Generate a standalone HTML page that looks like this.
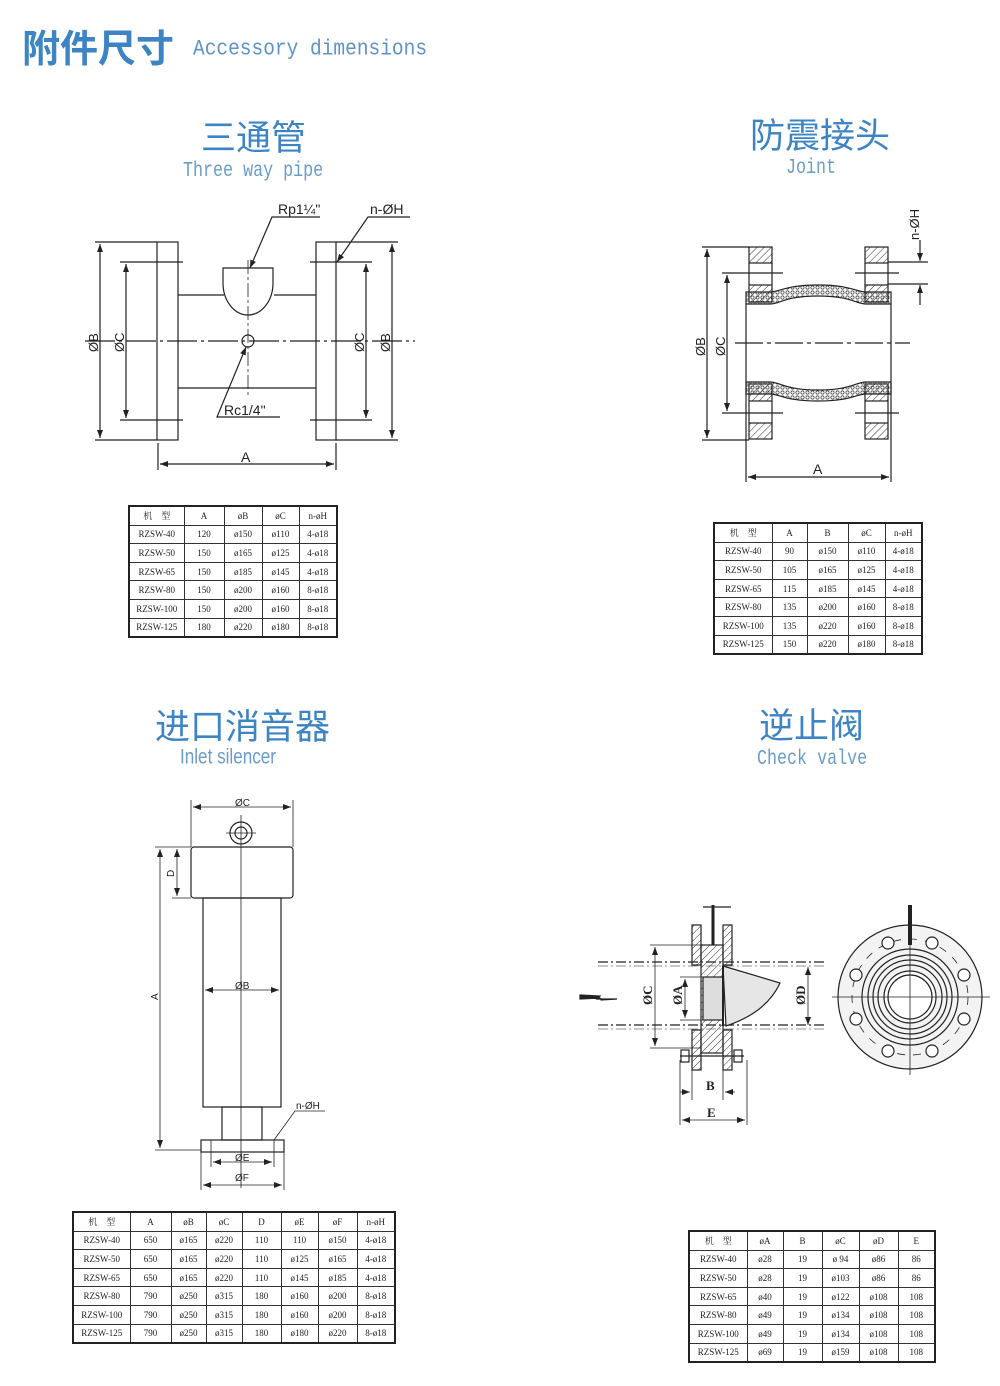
<!DOCTYPE html>
<html><head><meta charset="utf-8"><style>
body{margin:0;background:#fff;}
#p{position:relative;width:1000px;height:1386px;overflow:hidden;background:#fff;}
.cn{position:absolute;font-family:"Liberation Sans","Noto Sans CJK SC",sans-serif;color:#3c84c4;white-space:nowrap;}
.en{position:absolute;font-family:"Liberation Mono",monospace;color:#6a9ccb;white-space:nowrap;transform-origin:left top;}
table{position:absolute;border-collapse:collapse;border:2px solid #222;font-family:"Liberation Serif","Noto Serif CJK SC",serif;font-size:9px;color:#222;table-layout:fixed;}
td{border:1px solid #333;text-align:center;padding:0;height:17.6px;white-space:nowrap;overflow:hidden;}
svg text{font-family:"Liberation Sans",sans-serif;fill:#222;}
</style></head><body><div id="p">
<div class="cn" style="left:22px;top:18px;font-size:38px;font-weight:bold;">附件尺寸</div>
<div class="en" style="left:193px;top:36px;font-size:19.5px;color:#5f93c6;transform:scaleY(1.15);">Accessory dimensions</div>

<div class="cn" style="left:201px;top:110px;font-size:35px;">三通管</div>
<div class="en" style="left:183px;top:159px;font-size:16.7px;transform:scaleY(1.3);">Three way pipe</div>
<div class="cn" style="left:750px;top:108px;font-size:35px;">防震接头</div>
<div class="en" style="left:786px;top:156px;font-size:16.7px;transform:scaleY(1.3);">Joint</div>
<div class="cn" style="left:155px;top:699px;font-size:35px;">进口消音器</div>
<div class="en" style="left:180px;top:746px;font-size:19px;font-family:'Liberation Sans',sans-serif;transform:scaleX(0.9) scaleY(1.1);">Inlet silencer</div>
<div class="cn" style="left:759px;top:698px;font-size:35px;">逆止阀</div>
<div class="en" style="left:757px;top:747px;font-size:16.7px;transform:scaleY(1.3);">Check valve</div>

<svg width="1000" height="1386" style="position:absolute;left:0;top:0" stroke="#222" fill="none" stroke-width="1.2">
<defs>
<pattern id="h" width="5" height="5" patternUnits="userSpaceOnUse" patternTransform="rotate(45)"><line x1="0" y1="0" x2="0" y2="5" stroke="#333" stroke-width="1"/></pattern>
<pattern id="d" width="5" height="5" patternUnits="userSpaceOnUse"><circle cx="2.5" cy="2.5" r="1.6" stroke="#333" stroke-width="0.7"/></pattern>
<marker id="a" markerWidth="8" markerHeight="6" refX="8" refY="3" orient="auto-start-reverse" markerUnits="userSpaceOnUse"><path d="M0,0L8,3L0,6z" fill="#222" stroke="none"/></marker>
</defs>
<!-- three way pipe -->
<rect x="157" y="242" width="21" height="198"/>
<rect x="316" y="242" width="20" height="198"/>
<line x1="178" y1="295" x2="224" y2="295"/><line x1="274" y1="295" x2="316" y2="295"/>
<line x1="178" y1="388" x2="316" y2="388"/>
<path d="M223,268H273V283A25,32 0 0 1 223,283Z"/>
<line x1="85" y1="341" x2="415" y2="341" stroke-dasharray="30,4,3,4"/>
<line x1="248" y1="260" x2="248" y2="398" stroke-dasharray="14,3,3,3" stroke-width="0.8"/>
<circle cx="248" cy="341" r="6"/>
<line x1="95" y1="242" x2="157" y2="242"/><line x1="95" y1="440" x2="157" y2="440"/>
<line x1="100" y1="244" x2="100" y2="438" marker-start="url(#a)" marker-end="url(#a)"/>
<line x1="120" y1="262" x2="183" y2="262"/><line x1="120" y1="420" x2="183" y2="420"/>
<line x1="126" y1="264" x2="126" y2="418" marker-start="url(#a)" marker-end="url(#a)"/>
<line x1="310" y1="262" x2="372" y2="262"/><line x1="310" y1="420" x2="372" y2="420"/>
<line x1="366" y1="264" x2="366" y2="418" marker-start="url(#a)" marker-end="url(#a)"/>
<line x1="336" y1="242" x2="398" y2="242"/><line x1="336" y1="440" x2="398" y2="440"/>
<line x1="392" y1="244" x2="392" y2="438" marker-start="url(#a)" marker-end="url(#a)"/>
<line x1="158" y1="443" x2="158" y2="470"/><line x1="336" y1="443" x2="336" y2="470"/>
<line x1="160" y1="464" x2="334" y2="464" marker-start="url(#a)" marker-end="url(#a)"/>
<polyline points="320,217 272,217 250,268" marker-end="url(#a)"/>
<polyline points="410,217 368,217 337,262" marker-end="url(#a)"/>
<polyline points="280,417 217,417 246,347" marker-end="url(#a)"/>
<g stroke="none"><text x="278" y="214" font-size="14">Rp1¼"</text><text x="370" y="214" font-size="14">n-ØH</text>
<text x="224" y="415" font-size="14">Rc1/4"</text><text x="241" y="462" font-size="14">A</text>
<text transform="translate(98,352) rotate(-90)" font-size="13">ØB</text><text transform="translate(124,352) rotate(-90)" font-size="13">ØC</text>
<text transform="translate(364,352) rotate(-90)" font-size="13">ØC</text><text transform="translate(390,352) rotate(-90)" font-size="13">ØB</text></g>

<!-- joint -->
<rect x="749" y="247" width="23" height="16" fill="url(#h)"/><rect x="749" y="285" width="23" height="17" fill="url(#h)"/>
<rect x="749" y="384" width="23" height="17" fill="url(#h)"/><rect x="749" y="423" width="23" height="16" fill="url(#h)"/>
<rect x="865" y="247" width="23" height="16" fill="url(#h)"/><rect x="865" y="285" width="23" height="17" fill="url(#h)"/>
<rect x="865" y="384" width="23" height="17" fill="url(#h)"/><rect x="865" y="423" width="23" height="16" fill="url(#h)"/>
<line x1="749" y1="263" x2="749" y2="285"/><line x1="772" y1="263" x2="772" y2="285"/><line x1="865" y1="263" x2="865" y2="285"/><line x1="888" y1="263" x2="888" y2="285"/>
<line x1="749" y1="401" x2="749" y2="423"/><line x1="772" y1="401" x2="772" y2="423"/><line x1="865" y1="401" x2="865" y2="423"/><line x1="888" y1="401" x2="888" y2="423"/>
<path d="M746,292H770C780,292 785,285 818,285C851,285 856,292 866,292H891V304H866C856,304 851,296 818,296C785,296 780,304 770,304H746Z" fill="url(#d)"/>
<path d="M746,394H770C780,394 785,401 818,401C851,401 856,394 866,394H891V382H866C856,382 851,390 818,390C785,390 780,382 770,382H746Z" fill="url(#d)"/>
<line x1="746" y1="304" x2="746" y2="482"/><line x1="891" y1="304" x2="891" y2="482"/>
<line x1="735" y1="343" x2="910" y2="343" stroke-dasharray="28,4,4,4"/>
<line x1="702" y1="247" x2="749" y2="247"/><line x1="702" y1="440" x2="749" y2="440"/>
<line x1="707" y1="249" x2="707" y2="438" marker-start="url(#a)" marker-end="url(#a)"/>
<line x1="722" y1="273" x2="783" y2="273"/><line x1="722" y1="413" x2="783" y2="413"/>
<line x1="727" y1="275" x2="727" y2="411" marker-start="url(#a)" marker-end="url(#a)"/>
<line x1="855" y1="273" x2="899" y2="273"/><line x1="855" y1="413" x2="899" y2="413"/>
<line x1="888" y1="262" x2="928" y2="262"/><line x1="888" y1="284" x2="928" y2="284"/>
<line x1="920" y1="240" x2="920" y2="261" marker-end="url(#a)"/><line x1="920" y1="305" x2="920" y2="285" marker-end="url(#a)"/>
<line x1="748" y1="477" x2="889" y2="477" marker-start="url(#a)" marker-end="url(#a)"/>
<g stroke="none"><text x="813" y="474" font-size="14">A</text>
<text transform="translate(705,356) rotate(-90)" font-size="13">ØB</text><text transform="translate(725,356) rotate(-90)" font-size="13">ØC</text>
<text transform="translate(919,240) rotate(-90)" font-size="13">n-ØH</text></g>

<!-- silencer -->
<rect x="191" y="847" width="102" height="51" rx="3"/>
<rect x="203" y="898" width="78" height="209"/>
<rect x="222" y="1107" width="40" height="33"/>
<rect x="201" y="1140" width="83" height="12"/>
<circle cx="241" cy="833" r="11"/><circle cx="241" cy="833" r="6"/>
<line x1="226" y1="833" x2="256" y2="833" stroke-width="0.8"/>
<line x1="241" y1="815" x2="241" y2="1188" stroke-width="0.8"/>
<line x1="191" y1="800" x2="191" y2="847" stroke-width="0.8"/><line x1="293" y1="800" x2="293" y2="847" stroke-width="0.8"/>
<line x1="193" y1="807" x2="291" y2="807" marker-start="url(#a)" marker-end="url(#a)" stroke-width="0.8"/>
<line x1="155" y1="847" x2="191" y2="847" stroke-width="0.8"/><line x1="172" y1="898" x2="191" y2="898" stroke-width="0.8"/>
<line x1="177" y1="849" x2="177" y2="896" marker-start="url(#a)" marker-end="url(#a)" stroke-width="0.8"/>
<line x1="155" y1="1150" x2="201" y2="1150" stroke-width="0.8"/>
<line x1="160" y1="849" x2="160" y2="1148" marker-start="url(#a)" marker-end="url(#a)" stroke-width="0.8"/>
<line x1="205" y1="990" x2="279" y2="990" marker-start="url(#a)" marker-end="url(#a)" stroke-width="0.8"/>
<line x1="211" y1="1140" x2="211" y2="1167" stroke-width="0.8"/><line x1="274" y1="1140" x2="274" y2="1167" stroke-width="0.8"/>
<line x1="213" y1="1162" x2="272" y2="1162" marker-start="url(#a)" marker-end="url(#a)" stroke-width="0.8"/>
<line x1="201" y1="1152" x2="201" y2="1190" stroke-width="0.8"/><line x1="284" y1="1152" x2="284" y2="1190" stroke-width="0.8"/>
<line x1="203" y1="1185" x2="282" y2="1185" marker-start="url(#a)" marker-end="url(#a)" stroke-width="0.8"/>
<polyline points="325,1111 295,1111 274,1140" stroke-width="0.8"/>
<g stroke="none" font-size="10"><text x="235" y="806">ØC</text><text x="235" y="989">ØB</text><text x="235" y="1161">ØE</text><text x="235" y="1181">ØF</text>
<text x="296" y="1109">n-ØH</text><text transform="translate(174,877) rotate(-90)">D</text><text transform="translate(158,1000) rotate(-90)">A</text></g>

<!-- check valve -->
<line x1="598" y1="962" x2="825" y2="962" stroke-dasharray="10,3,2,3"/><line x1="598" y1="966" x2="825" y2="966" stroke-dasharray="10,3,2,3" stroke-width="0.6"/>
<line x1="598" y1="1025" x2="825" y2="1025" stroke-dasharray="10,3,2,3"/><line x1="598" y1="1029" x2="825" y2="1029" stroke-dasharray="10,3,2,3" stroke-width="0.6"/>
<rect x="692" y="925" width="9" height="40" fill="url(#h)"/><rect x="723" y="925" width="9" height="40" fill="url(#h)"/>
<rect x="692" y="1030" width="9" height="40" fill="url(#h)"/><rect x="723" y="1030" width="9" height="40" fill="url(#h)"/>
<rect x="701" y="945" width="22" height="108" fill="url(#h)"/>
<rect x="703" y="977" width="20" height="43" fill="#ddd"/>
<line x1="713" y1="905" x2="713" y2="945" stroke-width="3"/><line x1="703" y1="907" x2="731" y2="907"/>
<path d="M723,966L780,983C770,1005 750,1018 726,1026Z" fill="#e6e6e6"/>
<line x1="723" y1="966" x2="723" y2="1026" stroke-width="2"/>
<rect x="681" y="1050" width="8" height="12"/><rect x="734" y="1050" width="8" height="12"/>
<line x1="680" y1="1056" x2="744" y2="1056"/>
<line x1="650" y1="945" x2="701" y2="945" stroke-width="0.8"/><line x1="650" y1="1048" x2="701" y2="1048" stroke-width="0.8"/>
<line x1="655" y1="947" x2="655" y2="1046" marker-start="url(#a)" marker-end="url(#a)" stroke-width="0.8"/>
<line x1="680" y1="977" x2="703" y2="977" stroke-width="0.8"/><line x1="680" y1="1020" x2="703" y2="1020" stroke-width="0.8"/>
<line x1="685" y1="979" x2="685" y2="1018" marker-start="url(#a)" marker-end="url(#a)" stroke-width="0.8"/>
<line x1="808" y1="967" x2="808" y2="1025" marker-start="url(#a)" marker-end="url(#a)" stroke-width="0.8"/>
<line x1="680" y1="1060" x2="680" y2="1125" stroke-width="0.8"/><line x1="747" y1="1060" x2="747" y2="1125" stroke-width="0.8"/>
<line x1="692" y1="1070" x2="692" y2="1100" stroke-width="0.8"/><line x1="723" y1="1070" x2="723" y2="1100" stroke-width="0.8"/>
<line x1="680" y1="1092" x2="690" y2="1092" marker-end="url(#a)" stroke-width="0.8"/><line x1="735" y1="1092" x2="725" y2="1092" marker-end="url(#a)" stroke-width="0.8"/>
<line x1="682" y1="1120" x2="745" y2="1120" marker-start="url(#a)" marker-end="url(#a)" stroke-width="0.8"/>
<path d="M580,995L600,996L597,999L617,999L601,1000L600,998L580,999Z" fill="#222"/>
<g stroke="none" font-size="13" font-weight="bold"><text x="706" y="1090" style="font-family:'Liberation Serif'">B</text><text x="707" y="1117" style="font-family:'Liberation Serif'">E</text>
<text transform="translate(652,1005) rotate(-90)" style="font-family:'Liberation Serif'">ØC</text><text transform="translate(682,1005) rotate(-90)" style="font-family:'Liberation Serif'">ØA</text><text transform="translate(805,1005) rotate(-90)" style="font-family:'Liberation Serif'">ØD</text></g>
<circle cx="910" cy="997" r="72" fill="#f3f3f3"/>
<circle cx="910" cy="997" r="48"/><circle cx="910" cy="997" r="42"/><circle cx="910" cy="997" r="37"/><circle cx="910" cy="997" r="32"/><circle cx="910" cy="997" r="26" fill="#fff"/><circle cx="910" cy="997" r="22"/>
<circle cx="910" cy="997" r="58" stroke-dasharray="8,8" stroke-width="0.8"/>
<g fill="#fff"><circle cx="932" cy="943" r="6"/><circle cx="888" cy="943" r="6"/><circle cx="856" cy="975" r="6"/><circle cx="964" cy="975" r="6"/><circle cx="856" cy="1019" r="6"/><circle cx="964" cy="1019" r="6"/><circle cx="888" cy="1051" r="6"/><circle cx="932" cy="1051" r="6"/></g>
<line x1="832" y1="997" x2="990" y2="997" stroke-width="0.8"/><line x1="910" y1="920" x2="910" y2="1075" stroke-width="0.8"/>
<line x1="910" y1="905" x2="910" y2="945" stroke-width="4"/>
</svg>

<table style="left:128px;top:505px;width:209px;"><colgroup><col style="width:55px"><col style="width:40px"><col style="width:38px"><col style="width:37px"><col style="width:38px"></colgroup>
<tr><td>机　型</td><td>A</td><td>øB</td><td>øC</td><td>n-øH</td></tr>
<tr><td>RZSW-40</td><td>120</td><td>ø150</td><td>ø110</td><td>4-ø18</td></tr>
<tr><td>RZSW-50</td><td>150</td><td>ø165</td><td>ø125</td><td>4-ø18</td></tr>
<tr><td>RZSW-65</td><td>150</td><td>ø185</td><td>ø145</td><td>4-ø18</td></tr>
<tr><td>RZSW-80</td><td>150</td><td>ø200</td><td>ø160</td><td>8-ø18</td></tr>
<tr><td>RZSW-100</td><td>150</td><td>ø200</td><td>ø160</td><td>8-ø18</td></tr>
<tr><td>RZSW-125</td><td>180</td><td>ø220</td><td>ø180</td><td>8-ø18</td></tr></table>

<table style="left:713px;top:522px;width:208px;"><colgroup><col style="width:58px"><col style="width:35px"><col style="width:41px"><col style="width:37px"><col style="width:37px"></colgroup>
<tr><td>机　型</td><td>A</td><td>B</td><td>øC</td><td>n-øH</td></tr>
<tr><td>RZSW-40</td><td>90</td><td>ø150</td><td>ø110</td><td>4-ø18</td></tr>
<tr><td>RZSW-50</td><td>105</td><td>ø165</td><td>ø125</td><td>4-ø18</td></tr>
<tr><td>RZSW-65</td><td>115</td><td>ø185</td><td>ø145</td><td>4-ø18</td></tr>
<tr><td>RZSW-80</td><td>135</td><td>ø200</td><td>ø160</td><td>8-ø18</td></tr>
<tr><td>RZSW-100</td><td>135</td><td>ø220</td><td>ø160</td><td>8-ø18</td></tr>
<tr><td>RZSW-125</td><td>150</td><td>ø220</td><td>ø180</td><td>8-ø18</td></tr></table>

<table style="left:72px;top:1211px;width:322px;"><colgroup><col style="width:57px"><col style="width:41px"><col style="width:35px"><col style="width:36px"><col style="width:39px"><col style="width:37px"><col style="width:39px"><col style="width:38px"></colgroup>
<tr><td>机　型</td><td>A</td><td>øB</td><td>øC</td><td>D</td><td>øE</td><td>øF</td><td>n-øH</td></tr>
<tr><td>RZSW-40</td><td>650</td><td>ø165</td><td>ø220</td><td>110</td><td>110</td><td>ø150</td><td>4-ø18</td></tr>
<tr><td>RZSW-50</td><td>650</td><td>ø165</td><td>ø220</td><td>110</td><td>ø125</td><td>ø165</td><td>4-ø18</td></tr>
<tr><td>RZSW-65</td><td>650</td><td>ø165</td><td>ø220</td><td>110</td><td>ø145</td><td>ø185</td><td>4-ø18</td></tr>
<tr><td>RZSW-80</td><td>790</td><td>ø250</td><td>ø315</td><td>180</td><td>ø160</td><td>ø200</td><td>8-ø18</td></tr>
<tr><td>RZSW-100</td><td>790</td><td>ø250</td><td>ø315</td><td>180</td><td>ø160</td><td>ø200</td><td>8-ø18</td></tr>
<tr><td>RZSW-125</td><td>790</td><td>ø250</td><td>ø315</td><td>180</td><td>ø180</td><td>ø220</td><td>8-ø18</td></tr></table>

<table style="left:688px;top:1230px;width:246px;"><colgroup><col style="width:58px"><col style="width:36px"><col style="width:39px"><col style="width:37px"><col style="width:39px"><col style="width:37px"></colgroup>
<tr><td>机　型</td><td>øA</td><td>B</td><td>øC</td><td>øD</td><td>E</td></tr>
<tr><td>RZSW-40</td><td>ø28</td><td>19</td><td>ø 94</td><td>ø86</td><td>86</td></tr>
<tr><td>RZSW-50</td><td>ø28</td><td>19</td><td>ø103</td><td>ø86</td><td>86</td></tr>
<tr><td>RZSW-65</td><td>ø40</td><td>19</td><td>ø122</td><td>ø108</td><td>108</td></tr>
<tr><td>RZSW-80</td><td>ø49</td><td>19</td><td>ø134</td><td>ø108</td><td>108</td></tr>
<tr><td>RZSW-100</td><td>ø49</td><td>19</td><td>ø134</td><td>ø108</td><td>108</td></tr>
<tr><td>RZSW-125</td><td>ø69</td><td>19</td><td>ø159</td><td>ø108</td><td>108</td></tr></table>
</div></body></html>
